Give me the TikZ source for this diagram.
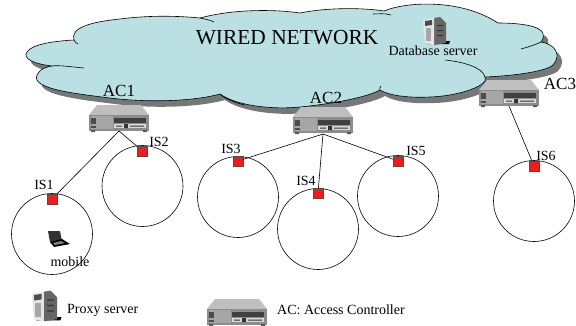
\documentclass[tikz,border=0pt]{standalone}
\usepackage{fontspec}
\setmainfont{Liberation Serif}
\definecolor{cloudfill}{HTML}{BAE0E3}
\definecolor{cloudshade}{HTML}{777777}
\definecolor{isred}{HTML}{EE1C1C}
\tikzset{
  x=1pt,y=-1pt,
  lab/.style={inner sep=0pt,font=\fontsize{14}{14}\selectfont},
  biglab/.style={inner sep=0pt,font=\fontsize{17}{17}\selectfont},
  small/.style={inner sep=0pt,font=\fontsize{14}{14}\selectfont},
  cell/.style={circle,draw=black,line width=.6pt,minimum size=81pt,inner sep=0pt},
  sensor/.style={rectangle,draw=black!70,line width=.4pt,fill=isred,minimum size=10pt,inner sep=0pt},
  wire/.style={draw=black,line width=.6pt},
  fold/.style={draw=black,line width=.6pt},
  acbox/.pic={
    \fill[black!45] (-30,10) rectangle (30,13);
    \fill[black!65] (-28,12) rectangle (-24,14) (24,12) rectangle (28,14);
    \fill[black!25] (-30,-3) -- (-22,-13) -- (22,-13) -- (30,-3) -- cycle;
    \fill[black!45] (-30,-3) rectangle (30,11);
    \fill[black!35] (-28,-2) rectangle (-6,11);
    \fill[black!70] (-28,0) rectangle (-23,6);
    \fill[black!75] (-5,0) rectangle (27,5);
    \fill[black!15] (-5,6) rectangle (27,10);
    \fill[black!80] (5,6) rectangle (9,10) (-3,7.5) rectangle (3,8.5) (11,7.5) rectangle (25,8.5);
    \fill[black!70] (-28,8) rectangle (-23,10);
  },
  serverbox/.pic={
    \fill[black] (-8,13) -- (14,13) -- (15,10) -- (-6,11) -- cycle;
    \fill[black!60] (-1,-13) -- (5,-14) -- (11,-8) -- (11,12) -- (-1,14) -- cycle;
    \fill[black!10] (-12,-11) -- (-1,-13) -- (-1,14) -- (-10,12) -- cycle;
    \fill[black!70] (-10,-10) -- (-3,-11) -- (-3,-6) -- (-10,-5) -- cycle;
    \fill[black!35] (-9,-3) rectangle (-4,10);
    \fill[black!80] (2,-6) rectangle (8,-5) (2,-1) rectangle (8,0) (2,4) rectangle (8,5);
  },
  laptop/.pic={
    \fill[black!80] (-10,-8) -- (2,-8) -- (4,2) -- (-8,3) -- cycle;
    \fill[black] (-8,3) -- (4,0) -- (12,5) -- (-4,8) -- cycle;
    \fill[black!50] (-5,4) -- (3,2) -- (7,4) -- (-3,6) -- cycle;
  }
}
\begin{document}
\begin{tikzpicture}
\useasboundingbox (0,0) rectangle (576,325);
\fill[white] (0,0) rectangle (576,325);
% cloud outline
\def\cloudpath{
  (200,18) .. controls (225,11) and (265,8) .. (300,13)
  .. controls (330,7) and (365,8) .. (384,11)
  .. controls (405,2) and (460,-2) .. (498,23)
  .. controls (525,23) and (552,27) .. (541,42)
  .. controls (555,44) and (562,55) .. (553,65)
  .. controls (545,72) and (510,76) .. (485,77)
  .. controls (490,85) and (460,96) .. (430,97)
  .. controls (410,98) and (390,96) .. (380,90)
  .. controls (365,98) and (330,104) .. (300,107)
  .. controls (270,110) and (235,105) .. (220,94)
  .. controls (195,101) and (150,103) .. (110,98)
  .. controls (70,93) and (25,88) .. (39,72)
  .. controls (41,69) and (46,67) .. (52,66)
  .. controls (35,64) and (22,59) .. (27,52)
  .. controls (32,44) and (55,41) .. (74,40)
  .. controls (70,28) and (90,22) .. (120,19)
  .. controls (150,15) and (180,16) .. (200,18) -- cycle}
\fill[cloudshade,shift={(5,6)}] \cloudpath;
\filldraw[fill=cloudfill,draw=black,line width=.6pt] \cloudpath;
% inner folds of the cloud
\draw[fold] (200,18) .. controls (205,19) and (210,20) .. (214,22);
\draw[fold] (74,40) .. controls (75,42) and (76,43) .. (78,44);
\draw[fold] (52,66) .. controls (60,65) and (72,67) .. (84,68);
\draw[fold] (220,94) .. controls (224,98) and (235,103) .. (245,105);
\draw[fold] (380,90) .. controls (379,89) and (380,87) .. (381,86);
\draw[fold] (485,77) .. controls (483,68) and (465,62) .. (445,60);
\draw[fold] (541,42) .. controls (535,45) and (528,47) .. (521,49);
\draw[fold] (373,14) .. controls (378,14) and (385,13) .. (391,15);
% labels on the cloud
\node[inner sep=0pt,font=\fontsize{21.4}{22}\selectfont] (wired) at (287,38) {WIRED NETWORK};
\pic at (435,31) {serverbox};
\node[small] (db) at (433,51) {Database server};
% access controllers
\pic at (119,118) {acbox};
\pic at (323,120) {acbox};
\pic at (509,93) {acbox};
\coordinate (ac1) at (119,131);
\coordinate (ac2) at (323,134);
\coordinate (ac3) at (509,106);
\node[biglab] (l1) at (119,91) {AC1};
\node[biglab] (l2) at (326,98) {AC2};
\node[biglab] (l3) at (560,84) {AC3};
% cells
\node[cell] (c1) at (52,234) {};
\node[cell] (c2) at (142.5,186) {};
\node[cell] (c3) at (238,197) {};
\node[cell] (c4) at (318,229) {};
\node[cell] (c5) at (398,196) {};
\node[cell] (c6) at (534,201) {};
% sensors
\node[sensor] (s1) at (52,199) {};
\node[sensor] (s2) at (142.5,151) {};
\node[sensor] (s3) at (238,161) {};
\node[sensor] (s4) at (318,193) {};
\node[sensor] (s5) at (398,161) {};
\node[sensor] (s6) at (534,166) {};
% connectors
\draw[wire] (ac1) -- (s1);
\draw[wire] (ac1) -- (s2);
\draw[wire] (ac2) -- (s3);
\draw[wire] (ac2) -- (s4);
\draw[wire] (ac2) -- (s5);
\draw[wire] (ac3) -- (s6);
\node[lab] (i1) at (44,185) {IS1};
\node[lab] (i2) at (159,142) {IS2};
\node[lab] (i3) at (231,149) {IS3};
\node[lab] (i4) at (306,181) {IS4};
\node[lab] (i5) at (416,151) {IS5};
\node[lab] (i6) at (546,156) {IS6};
% mobile
\pic at (58,239) {laptop};
\node[small] (m) at (70,262) {mobile};
% legend
\pic[scale=1.1] at (45,306) {serverbox};
\node[small,anchor=west] (p) at (67,310) {Proxy server};
\pic at (237,312) {acbox};
\node[small,anchor=west] (a) at (277,310) {AC: Access Controller};
\end{tikzpicture}
\end{document}
